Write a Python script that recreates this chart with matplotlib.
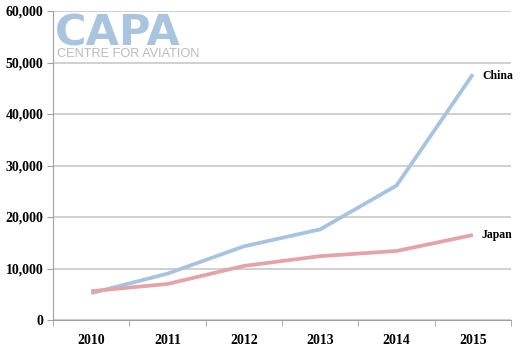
import matplotlib
matplotlib.use("Agg")
import matplotlib.pyplot as plt
import numpy as np

years = ["2010", "2011", "2012", "2013", "2014", "2015"]
china = [5200, 9000, 14300, 17600, 26100, 47700]
japan = [5600, 7000, 10500, 12400, 13400, 16500]

fig = plt.figure(figsize=(5.22, 3.5), dpi=100)
ax = fig.add_axes([53 / 522, 30 / 350, 458 / 522, 309 / 350])

x = np.arange(len(years))
ax.plot(x, china, color="#a6c3df", lw=2.7, solid_capstyle="butt")
ax.plot(x, japan, color="#e3a3a7", lw=2.7, solid_capstyle="butt")

ax.text(x[-1] + 0.12, china[-1] - 300, "China", fontsize=8.5, family="Liberation Serif",
        fontweight="bold", va="center", ha="left")
ax.text(x[-1] + 0.12, japan[-1], "Japan", fontsize=8.5, family="Liberation Serif",
        fontweight="bold", va="center", ha="left")

ax.set_xlim(-0.5, len(years) - 0.5)
ax.set_ylim(0, 60000)
ax.set_yticks(range(0, 60001, 10000))
ax.set_yticklabels([f"{v:,}" for v in range(0, 60001, 10000)])
ax.set_xticks(x)
ax.set_xticklabels(years)
ax.set_xticks(np.arange(-0.5, len(years)), minor=True)
ax.tick_params(axis="x", which="major", length=0, pad=10)
ax.tick_params(axis="x", which="minor", length=4, color="#a0a0a0")
ax.tick_params(axis="y", length=4, color="#a0a0a0", pad=3)
for lab in ax.get_xticklabels() + ax.get_yticklabels():
    lab.set_family("Liberation Serif")
    lab.set_fontweight("bold")
    lab.set_fontsize(10)

ax.grid(axis="y", color="#c8c8c8", lw=1.2)
ax.set_axisbelow(True)
for s in ["top", "right"]:
    ax.spines[s].set_visible(False)
ax.spines["left"].set_color("#a0a0a0")
ax.spines["bottom"].set_color("#a0a0a0")

# watermark
fig.text(55 / 522, 1 - 45 / 350, "CAPA", fontsize=31, fontweight="heavy",
         family="DejaVu Sans", color="#a8c4df", va="baseline", ha="left")
fig.text(57 / 522, 1 - 57 / 350, "CENTRE FOR AVIATION", fontsize=9.2,
         family="Liberation Sans", color="#bbbbbb", va="baseline", ha="left")

fig.savefig("out.png", dpi=100)
